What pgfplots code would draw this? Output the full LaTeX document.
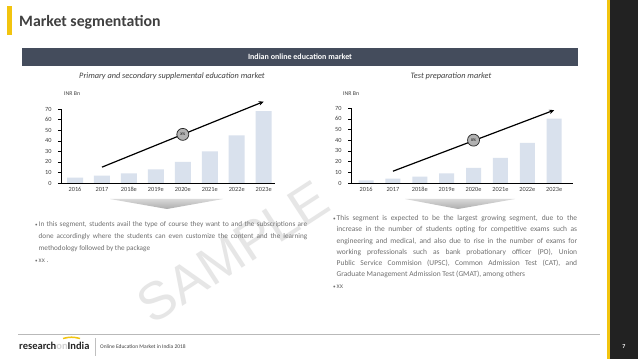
\documentclass[border=0pt]{standalone}
\usepackage{pgfplots}
\pgfplotsset{compat=1.18}
\usepackage{fontspec}
\setmainfont{Carlito}
\setsansfont{Liberation Sans}
\usetikzlibrary{arrows.meta}
\definecolor{yel}{HTML}{F2C40F}
\definecolor{band}{HTML}{444C5C}
\definecolor{dk}{HTML}{404040}
\definecolor{txt}{HTML}{707070}
\definecolor{barc}{HTML}{D9E1ED}
\definecolor{strip}{HTML}{222222}
\definecolor{wm}{HTML}{E6E6E6}
\pgfplotsset{myaxis/.style={
  scale only axis, axis x line=bottom, axis y line=left,
  axis line style={-, black, line width=0.6pt},
  enlargelimits=false, ymin=0, ymax=70, ytick={0,10,...,70},
  xtick={0,...,7}, xticklabels={2016,2017,2018e,2019e,2020e,2021e,2022e,2023e},
  xtick style={draw=none}, ytick style={black, line width=0.4pt},
  tick align=outside, major tick length=3pt,
  /pgf/number format/assume math mode=true,
  tick label style={font=\fontsize{6.3}{7}\selectfont, text=dk},
  yticklabel style={xshift=-3pt},
  xticklabel style={yshift=2pt},
  clip=false, ybar, bar width=16pt,
}}
\begin{document}
\begin{tikzpicture}[x=1pt,y=1pt]
\fill[white] (0,0) rectangle (638,359);
\useasboundingbox (0,0) rectangle (638,359);
% watermark
\node[rotate=33, font=\fontsize{53}{53}\selectfont\sffamily, text=wm] at (233,107) {SAMPLE};
% right strip
\fill[strip] (610,0) rectangle (638,359);
\fill[yel] (607,0) rectangle (610,359);
\node[font=\fontsize{6}{7}\selectfont\bfseries, text=white] at (624,12) {7};
% title
\fill[yel] (7,324) rectangle (12,353);
\node[anchor=base west, font=\fontsize{15.8}{18}\selectfont\bfseries, text=dk, inner sep=0pt] at (19,332) {Market segmentation};
% band
\fill[band] (22,293) rectangle (578,311);
\node[font=\fontsize{8}{9}\selectfont\bfseries, text=white] at (300,302) {Indian online education market};
\node[font=\fontsize{8.3}{9}\selectfont\itshape, text=dk] at (172,283) {Primary and secondary supplemental education market};
\node[font=\fontsize{8.3}{9}\selectfont\itshape, text=dk] at (451,283) {Test preparation market};
% INR Bn
\node[anchor=west, font=\fontsize{5.8}{7}\selectfont, text=dk, inner sep=0pt] at (64,265) {INR Bn};
\node[anchor=west, font=\fontsize{5.8}{7}\selectfont, text=dk, inner sep=0pt] at (343,265) {INR Bn};
% left chart
\begin{axis}[myaxis, at={(61pt,176pt)}, anchor=south west, width=214pt, height=74pt,
  xmin=-0.52, xmax=7.42]
\addplot[fill=barc, draw=none] coordinates {(0,5) (1,7) (2,9) (3,13) (4,20) (5,30) (6,45) (7,68)};
\addplot[sharp plot, black, line width=1.2pt, -{Stealth[length=5pt,width=4.5pt]}] coordinates {(1,15) (7,77)};
\node[circle, fill=gray!60, draw=black!85, line width=0.7pt, minimum size=12pt, inner sep=0pt, font=\fontsize{4}{4}\selectfont] at (axis cs:4,46) {X\%};
\end{axis}
% right chart
\begin{axis}[myaxis, at={(351pt,176pt)}, anchor=south west, width=222pt, height=75pt,
  xmin=-0.56, xmax=7.7, bar width=15pt]
\addplot[fill=barc, draw=none] coordinates {(0,2.5) (1,4) (2,6) (3,9) (4,14) (5,23.5) (6,37.5) (7,60)};
\addplot[sharp plot, black, line width=1.2pt, -{Stealth[length=5pt,width=4.5pt]}] coordinates {(1,11) (7,68)};
\node[circle, fill=gray!60, draw=black!85, line width=0.7pt, minimum size=12pt, inner sep=0pt, font=\fontsize{4}{4}\selectfont] at (axis cs:4,40) {X\%};
\end{axis}
% chevrons
\shade[top color=gray!30, bottom color=gray!65] (110,160) -- (223,160) -- (167,150) -- cycle;
\shade[top color=gray!30, bottom color=gray!65] (405,160) -- (515,160) -- (458,150) -- cycle;
% paragraphs
\node[anchor=north west, inner sep=0pt, text width=272pt, align=justify, text=txt, font=\fontsize{7.2}{12}\selectfont] at (35,138) {%
\hangindent=3.5pt\hangafter=1\makebox[3.5pt][l]{\scalebox{0.7}{\textbullet}}In this segment, students avail the type of course they want to and the subscriptions are\linebreak
done accordingly where the students can even customize the content and the learning\linebreak
methodology followed by the package\par
\makebox[3.5pt][l]{\scalebox{0.7}{\textbullet}}xx .};
\node[anchor=north west, inner sep=0pt, text width=244pt, align=justify, text=txt, font=\fontsize{7.5}{11.3}\selectfont] at (333,144) {%
\hangindent=3.5pt\hangafter=1\makebox[3.5pt][l]{\scalebox{0.7}{\textbullet}}This segment is expected to be the largest growing segment, due to the\linebreak
increase in the number of students opting for competitive exams such as\linebreak
engineering and medical, and also due to rise in the number of exams for\linebreak
working professionals such as bank probationary officer (PO), Union\linebreak
Public Service Commision (UPSC), Common Admission Test (CAT), and\linebreak
Graduate Management Admission Test (GMAT), among others\par
\makebox[3.5pt][l]{\scalebox{0.7}{\textbullet}}xx};
% footer
\draw[gray!55, line width=0.6pt] (18,25) -- (600,25);
\node[anchor=base west, inner sep=0pt, font=\fontsize{10.5}{12}\selectfont\bfseries] at (19,9) {\textcolor{black!85}{research}\textcolor{gray!35}{on}\textcolor{black!85}{India}};
\draw[yel, line width=1.5pt] (63,20.5) to[bend left=15] (80,20.5);
\draw[gray!50, line width=0.4pt] (95,3) -- (95,21);
\node[anchor=west, inner sep=0pt, font=\fontsize{5.5}{6}\selectfont, text=dk] at (100,12) {Online Education Market in India 2018};
\end{tikzpicture}
\end{document}
